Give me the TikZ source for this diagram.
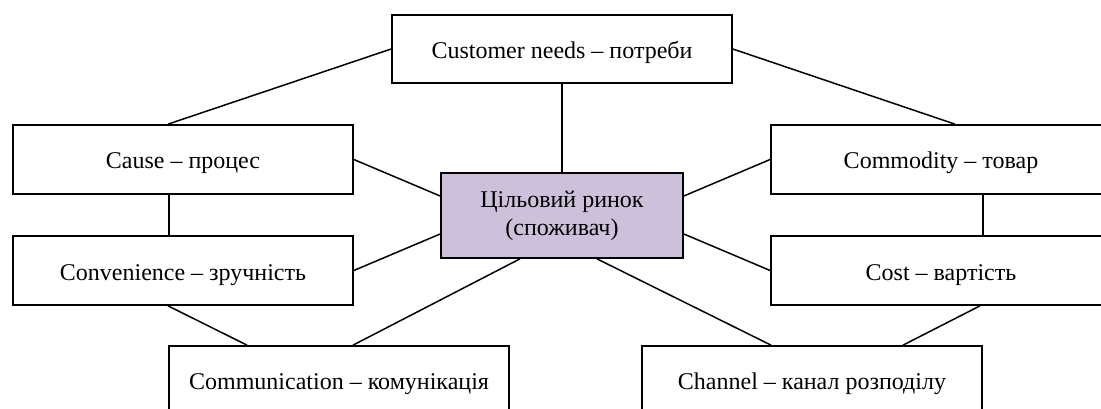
\documentclass[tikz,border=0pt]{standalone}
\usepackage{fontspec}
\setmainfont{Liberation Serif}
\usetikzlibrary{shapes}
\definecolor{lilac}{RGB}{204,192,218}
\tikzstyle{boxes} = [rectangle, minimum width=340pt, minimum height=69pt, text centered,
draw=black, line width=1.7pt, font=\fontsize{24}{28}\selectfont, text height=20pt,
text depth=1pt]
\tikzstyle{target} = [boxes, minimum width=242pt, minimum height=85pt, fill=lilac,
align=center, text height=, text depth=]
\tikzstyle{line} = [line width=1.5pt, -]

\begin{document}
\begin{tikzpicture}[x=1pt, y=-1pt]

    \useasboundingbox (0,0) rectangle (1101,409);
    \clip (0,0) rectangle (1101,409);

    \node (market) [target] at (562,215.5) {Цільовий ринок\\(споживач)};
    \node (needs) [boxes, minimum height=68pt] at (562,49) {Customer needs – потреби};
    \node (cause) [boxes] at (183,159.5) {Cause – процес};
    \node (commodity) [boxes] at (941,159.5) {Commodity – товар};
    \node (convenience) [boxes] at (183,270.5) {Convenience – зручність};
    \node (cost) [boxes] at (941,270.5) {Cost – вартість};
    \node (communication) [boxes, minimum height=68pt] at (339,380) {Communication – комунікація};
    \node (channel) [boxes, minimum height=68pt] at (812,380) {Channel – канал розподілу};

    \draw[line] (needs) -- (market);
    \draw[line] (needs.west) -- ([xshift=-15pt]cause.north);
    \draw[line] (needs.east) -- ([xshift=14pt]commodity.north);
    \draw[line] (cause.east) -- ([yshift=19.5pt]market.west);
    \draw[line] (convenience.east) -- ([yshift=-18.5pt]market.west);
    \draw[line] (commodity.west) -- ([yshift=19.5pt]market.east);
    \draw[line] (cost.west) -- ([yshift=-18.5pt]market.east);
    \draw[line] ([xshift=-14pt]cause.south) -- ([xshift=-14pt]convenience.north);
    \draw[line] ([xshift=42pt]commodity.south) -- ([xshift=42pt]cost.north);
    \draw[line] ([xshift=-15pt]convenience.south) -- ([xshift=-92pt]communication.north);
    \draw[line] ([xshift=-42pt]market.south) -- ([xshift=14pt]communication.north);
    \draw[line] ([xshift=35pt]market.south) -- ([xshift=-41pt]channel.north);
    \draw[line] ([xshift=39pt]cost.south) -- ([xshift=91pt]channel.north);

\end{tikzpicture}
\end{document}
